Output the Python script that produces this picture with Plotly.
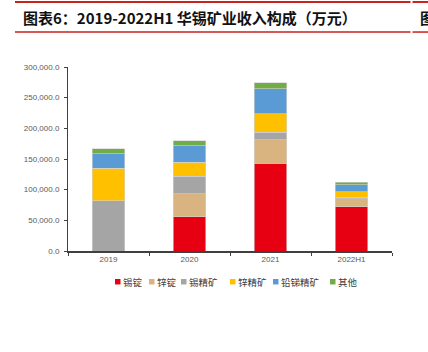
import plotly.graph_objects as go

categories = ["2019", "2020", "2021", "2022H1"]
series_names = ["锡锭", "锌锭", "锡精矿", "锌精矿", "铅锑精矿", "其他"]
tin_ingot = [0, 55600, 142900, 71900]
zinc_ingot = [0, 37900, 38500, 13500]
tin_conc = [82200, 28100, 11900, 2100]
zinc_conc = [52600, 23400, 30400, 9300]
pbsb_conc = [23400, 27000, 41200, 10900]
other = [8600, 8100, 9300, 4200]
y_ticks = [0, 50000, 100000, 150000, 200000, 250000, 300000]

series_values = [tin_ingot, zinc_ingot, tin_conc, zinc_conc, pbsb_conc, other]
colors = ["#E60012", "#D9B380", "#A5A5A5", "#FFC000", "#5B9BD5", "#70AD47"]

W, H = 428, 352
L, R = 68, 392
T, B = 67.3, 251.5

def px(x):
    return (x - L) / (R - L)

def py(y):
    return (B - y) / (B - T)

fig = go.Figure()
for name, vals, col in zip(series_names, series_values, colors):
    fig.add_trace(go.Bar(
        x=categories, y=vals, name=name,
        marker=dict(color=col, line=dict(color="#D4D4D4", width=0.6)),
        showlegend=False,
    ))

tick_font = dict(family="Liberation Sans, Arial, sans-serif", size=8, color="#595959")
cjk = "Noto Sans CJK SC"

fig.update_layout(
    width=W, height=H,
    margin=dict(l=L, r=W - R, t=T, b=H - B, pad=0),
    barmode="stack", bargap=0.6,
    plot_bgcolor="white", paper_bgcolor="white",
    xaxis=dict(
        type="category", showline=True, linecolor="#404040", linewidth=1.5,
        ticks="outside", ticklen=3, tickcolor="#404040", tickson="boundaries",
        tickfont=tick_font, showgrid=False, zeroline=False,
    ),
    yaxis=dict(
        range=[0, 300000], tickvals=y_ticks, tickformat=",.1f",
        showline=True, linecolor="#404040", linewidth=1,
        ticks="outside", ticklen=3, tickcolor="#404040",
        tickfont=tick_font, showgrid=False, zeroline=False,
        ticklabelstandoff=3,
    ),
)

shapes = []
annotations = []
red = "#C9211E"
# header rules
for (x0, x1) in [(15, 410.5), (412.5, 428)]:
    shapes.append(dict(type="line", xref="paper", yref="paper",
                       x0=px(x0), x1=px(x1), y0=py(2.2), y1=py(2.2),
                       line=dict(color=red, width=2)))
    shapes.append(dict(type="line", xref="paper", yref="paper",
                       x0=px(x0), x1=px(x1), y0=py(32.3), y1=py(32.3),
                       line=dict(color=red, width=1.5)))
annotations.append(dict(text="<b>图表6：2019-2022H1 华锡矿业收入构成（万元）</b>",
                        xref="paper", yref="paper", x=px(21), y=py(17.5),
                        xanchor="left", yanchor="middle", showarrow=False,
                        font=dict(family=cjk, size=15, color="#111111")))
annotations.append(dict(text="<b>图表7：</b>",
                        xref="paper", yref="paper", x=px(418), y=py(17.5),
                        xanchor="left", yanchor="middle", showarrow=False,
                        font=dict(family=cjk, size=15, color="#111111")))

# custom legend
legend_x = [115, 149, 181, 230, 273, 330]
for name, col, lx in zip(series_names, colors, legend_x):
    shapes.append(dict(type="rect", xref="paper", yref="paper",
                       x0=px(lx), x1=px(lx + 5.5), y0=py(285), y1=py(279.5),
                       fillcolor=col, line=dict(width=0)))
    annotations.append(dict(text=name, xref="paper", yref="paper",
                            x=px(lx + 6), y=py(282.2), xanchor="left", yanchor="middle",
                            showarrow=False,
                            font=dict(family=cjk, size=9.5, color="#404040")))

fig.update_layout(shapes=shapes, annotations=annotations)
fig.write_html("out.html")
